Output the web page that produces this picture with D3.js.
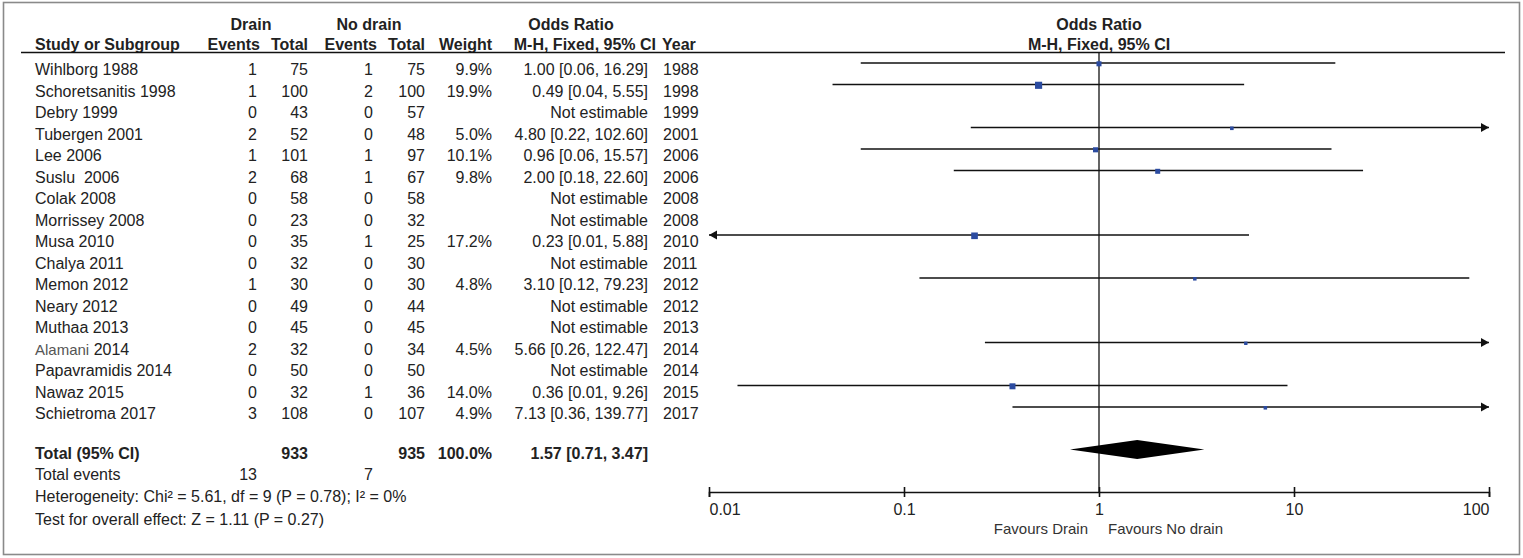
<!DOCTYPE html>
<html><head><meta charset="utf-8">
<script src="https://cdn.jsdelivr.net/npm/d3@7"></script>
<style>
body{margin:0;background:#fff;}
svg{display:block;font-family:"Liberation Sans",Arial,sans-serif;}
text{white-space:pre;}
</style></head>
<body><svg id="c" width="1523" height="558"></svg>
<script>
const studies = ["Wihlborg 1988","Schoretsanitis 1998","Debry 1999","Tubergen 2001","Lee 2006","Suslu  2006","Colak 2008","Morrissey 2008","Musa 2010","Chalya 2011","Memon 2012","Neary 2012","Muthaa 2013","Alamani 2014","Papavramidis 2014","Nawaz 2015","Schietroma 2017"];
const drainEvents = [1,1,0,2,1,2,0,0,0,0,1,0,0,2,0,0,3];
const drainTotal = [75,100,43,52,101,68,58,23,35,32,30,49,45,32,50,32,108];
const noDrainEvents = [1,2,0,0,1,1,0,0,1,0,0,0,0,0,0,1,0];
const noDrainTotal = [75,100,57,48,97,67,58,32,25,30,30,44,45,34,50,36,107];
const weights = [9.9,19.9,null,5.0,10.1,9.8,null,null,17.2,null,4.8,null,null,4.5,null,14.0,4.9];
const orEst = [1.00,0.49,null,4.80,0.96,2.00,null,null,0.23,null,3.10,null,null,5.66,null,0.36,7.13];
const orLow = [0.06,0.04,null,0.22,0.06,0.18,null,null,0.01,null,0.12,null,null,0.26,null,0.01,0.36];
const orHigh = [16.29,5.55,null,102.60,15.57,22.60,null,null,5.88,null,79.23,null,null,122.47,null,9.26,139.77];
// unrounded lower limits (labels show 2 decimals)
const orLowPlotted = [0.06,0.043,null,0.22,0.06,0.18,null,null,0.009,null,0.12,null,null,0.26,null,0.014,0.36];
const years = [1988,1998,1999,2001,2006,2006,2008,2008,2010,2011,2012,2012,2013,2014,2014,2015,2017];
const total = {drainTotal:933, noDrainTotal:935, weight:"100.0%", est:1.57, low:0.71, high:3.47};
const totalEvents = [13, 7];
const tickValues = [0.01,0.1,1,10,100];
const tickLabels = ["0.01","0.1","1","10","100"];

const svg = d3.select("#c");
const ink = "#222";
svg.append("rect").attr("x",3.5).attr("y",2.5).attr("width",1516).attr("height",552)
  .attr("fill","none").attr("stroke","#8a8a8a").attr("stroke-width",1.6);

const x = d3.scaleLog().domain([0.01,100]).range([709,1489]);
const yLine = d3.scaleLinear().domain([0,16]).range([63,407]);
const fs = 16;

function txt(g, xx, yy, s, anchor, bold){
  const t = g.append("text").attr("x",xx).attr("y",yy).text(s)
    .attr("text-anchor",anchor||"start").attr("font-size",fs).attr("fill",ink);
  if(bold) t.attr("font-weight","bold");
  return t;
}
const hb1 = 30, hb2 = 50;
txt(svg,251,hb1,"Drain","middle",true);
txt(svg,369,hb1,"No drain","middle",true);
txt(svg,571,hb1,"Odds Ratio","middle",true);
txt(svg,35,hb2,"Study or Subgroup","start",true);
txt(svg,260,hb2,"Events","end",true);
txt(svg,308,hb2,"Total","end",true);
txt(svg,377,hb2,"Events","end",true);
txt(svg,425,hb2,"Total","end",true);
txt(svg,492,hb2,"Weight","end",true);
txt(svg,656,hb2,"M-H, Fixed, 95% CI","end",true);
txt(svg,662,hb2,"Year","start",true);
txt(svg,1099,hb1,"Odds Ratio","middle",true);
txt(svg,1099,hb2,"M-H, Fixed, 95% CI","middle",true);
svg.append("line").attr("x1",21).attr("x2",1505).attr("y1",52.5).attr("y2",52.5)
  .attr("stroke","#111").attr("stroke-width",1.6);

svg.append("line").attr("x1",x(1)).attr("x2",x(1)).attr("y1",52).attr("y2",492)
  .attr("stroke","#111").attr("stroke-width",1.3);

const fmt = d3.format(".2f");
studies.forEach((s,i)=>{
  const yl = yLine(i), yb = yl + 12;
  if(s.startsWith("Alamani")){
    const parts = s.split(" ");
    const t = svg.append("text").attr("x",35).attr("y",yb).attr("font-size",fs).attr("fill",ink);
    t.append("tspan").attr("font-size",15).attr("fill","#555").text(parts[0]);
    t.append("tspan").text(" "+parts.slice(1).join(" "));
  } else {
    txt(svg,35,yb,s,"start",false);
  }
  txt(svg,257,yb,drainEvents[i],"end");
  txt(svg,308,yb,drainTotal[i],"end");
  txt(svg,373,yb,noDrainEvents[i],"end");
  txt(svg,425,yb,noDrainTotal[i],"end");
  if(weights[i]!=null) txt(svg,492,yb,d3.format(".1f")(weights[i])+"%","end");
  if(orEst[i]!=null){
    txt(svg,648,yb,fmt(orEst[i])+" ["+fmt(orLow[i])+", "+fmt(orHigh[i])+"]","end");
  } else {
    txt(svg,648,yb,"Not estimable","end");
  }
  txt(svg,663,yb,years[i],"start");
  if(orEst[i]!=null){
    const lowV = orLowPlotted[i];
    const lo = Math.max(lowV,0.01), hi = Math.min(orHigh[i],100);
    svg.append("line").attr("x1",x(lo)).attr("x2",x(hi)).attr("y1",yl).attr("y2",yl)
      .attr("stroke","#111").attr("stroke-width",1.3);
    if(orHigh[i]>100){
      const xe=x(100);
      svg.append("path").attr("d",`M${xe},${yl} L${xe-8},${yl-4.5} L${xe-8},${yl+4.5} Z`).attr("fill","#111");
    }
    if(lowV<0.01){
      const xs=x(0.01);
      svg.append("path").attr("d",`M${xs},${yl} L${xs+8},${yl-4.5} L${xs+8},${yl+4.5} Z`).attr("fill","#111");
    }
    const sz = 1.6*Math.sqrt(weights[i]);
    svg.append("rect").attr("x",x(orEst[i])-sz/2).attr("y",yl-sz/2+0.8).attr("width",sz).attr("height",sz)
      .attr("fill","#2b4ba0");
  }
});

const yt = 459;
txt(svg,35,yt,"Total (95% CI)","start",true);
txt(svg,308,yt,total.drainTotal,"end",true);
txt(svg,425,yt,total.noDrainTotal,"end",true);
txt(svg,492,yt,total.weight,"end",true);
txt(svg,648,yt,fmt(total.est)+" ["+fmt(total.low)+", "+fmt(total.high)+"]","end",true);
const yd = 449.5, dh = 9.5;
svg.append("path").attr("d",`M${x(total.low)},${yd} L${x(total.est)},${yd-dh} L${x(total.high)},${yd} L${x(total.est)},${yd+dh} Z`)
  .attr("fill","#000");

txt(svg,35,480,"Total events","start");
txt(svg,257,480,totalEvents[0],"end");
txt(svg,373,480,totalEvents[1],"end");
txt(svg,35,502,"Heterogeneity: Chi\u00B2 = 5.61, df = 9 (P = 0.78); I\u00B2 = 0%","start");
txt(svg,35,525,"Test for overall effect: Z = 1.11 (P = 0.27)","start");

const axis = d3.axisBottom(x).tickValues(tickValues).tickFormat((d,i)=>tickLabels[i]).tickSizeOuter(0).tickSize(5);
const ag = svg.append("g").attr("transform","translate(0,492)").call(axis);
ag.select(".domain").attr("stroke","#111").attr("stroke-width",1.6);
ag.selectAll(".tick line").attr("y1",-5).attr("y2",5).attr("stroke","#111").attr("stroke-width",1.6);
ag.selectAll(".tick text").attr("font-size",fs).attr("fill",ink).attr("font-family","Liberation Sans, Arial, sans-serif")
  .attr("dy",null).attr("y",23)
  .attr("text-anchor",(d,i)=> i===0?"start":(i===tickValues.length-1?"end":"middle"));
svg.append("text").attr("x",x(1)-11).attr("y",534).attr("text-anchor","end").attr("font-size",15).attr("fill","#333").text("Favours Drain");
svg.append("text").attr("x",x(1)+9).attr("y",534).attr("text-anchor","start").attr("font-size",15).attr("fill","#333").text("Favours No drain");
</script></body></html>
